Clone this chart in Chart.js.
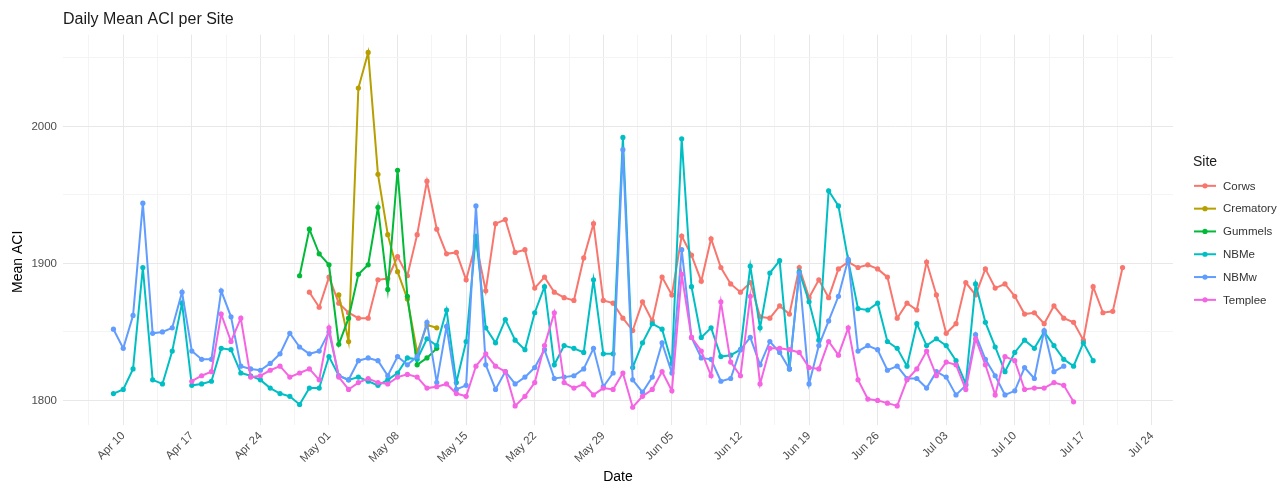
<!DOCTYPE html>
<html>
<head>
<meta charset="utf-8">
<script src="https://cdn.jsdelivr.net/npm/chart.js@4.4.1/dist/chart.umd.min.js"></script>
<style>
html,body{margin:0;padding:0;background:#ffffff;}
canvas{display:block;}
</style>
</head>
<body>
<canvas id="c" width="1288" height="484"></canvas>
<script>
// ---- categories (dates, 2024) ----
const dates = [
'04-09','04-10','04-11','04-12','04-13','04-14','04-15','04-16','04-17','04-18','04-19','04-20','04-21','04-22','04-23','04-24','04-25','04-26','04-27','04-28','04-29','04-30',
'05-01','05-02','05-03','05-04','05-05','05-06','05-07','05-08','05-09','05-10','05-11','05-12','05-13','05-14','05-15','05-16','05-17','05-18','05-19','05-20','05-21','05-22','05-23','05-24','05-25','05-26','05-27','05-28','05-29','05-30','05-31',
'06-01','06-02','06-03','06-04','06-05','06-06','06-07','06-08','06-09','06-10','06-11','06-12','06-13','06-14','06-15','06-16','06-17','06-18','06-19','06-20','06-21','06-22','06-23','06-24','06-25','06-26','06-27','06-28','06-29','06-30',
'07-01','07-02','07-03','07-04','07-05','07-06','07-07','07-08','07-09','07-10','07-11','07-12','07-13','07-14','07-15','07-16','07-17','07-18','07-19','07-20','07-21'
];

// ---- tick labels ----
const xTickDates  = ['04-10','04-17','04-24','05-01','05-08','05-15','05-22','05-29','06-05','06-12','06-19','06-26','07-03','07-10','07-17','07-24'];
const xTickLabels = ['Apr 10','Apr 17','Apr 24','May 01','May 08','May 15','May 22','May 29','Jun 05','Jun 12','Jun 19','Jun 26','Jul 03','Jul 10','Jul 17','Jul 24'];
const yTickValues = [1800, 1900, 2000];

// ---- sites ----
const siteNames  = ['Corws','Crematory','Gummels','NBMe','NBMw','Templee'];
const siteColors = ['#F8766D','#B79F00','#00BA38','#00BFC4','#619CFF','#F564E3'];
const siteStarts = ['04-29','05-02','04-28','04-09','04-09','04-17'];

// ---- series values (daily mean ACI, consecutive days from each site's start) ----
const corws = [
1879,1868,1890,1871,1864,1860,1860,1888,1889,1905,
1891,1921,1960,1925,1907,1908,1888,1915,1880,1929,
1932,1908,1910,1882,1890,1879,1875,1873,1904,1929,
1873,1871,1860,1851,1872,1858,1890,1877,1920,1906,
1887,1918,1897,1885,1879,1886,1861,1860,1869,1863,
1897,1875,1888,1875,1896,1901,1897,1899,1896,1890,
1860,1871,1866,1901,1877,1849,1856,1886,1877,1896,
1882,1885,1876,1863,1864,1856,1869,1860,1857,1844,
1883,1864,1865,1897];
const crematory = [1877,1843,2028,2054,1965,1921,1894,1874,1835,1855,1853];
const gummels = [1891,1925,1907,1899,1841,1860,1892,1899,1941,1881,1968,1876,1826,1831,1838];
const nbme = [
1805,1808,1823,1897,1815,1812,1836,1871,1811,1812,
1814,1838,1837,1820,1818,1815,1809,1805,1803,1797,
1809,1809,1832,1818,1815,1817,1814,1811,1815,1820,
1831,1830,1845,1840,1866,1813,1843,1920,1853,1842,
1859,1844,1837,1864,1883,1826,1840,1838,1835,1888,
1834,1834,1992,1824,1842,1856,1852,1827,1991,1883,
1846,1853,1832,1833,1837,1898,1853,1893,1902,1823,
1894,1872,1844,1953,1942,1902,1867,1866,1871,1843,
1838,1825,1856,1840,1845,1840,1829,1812,1885,1857,
1839,1821,1835,1844,1838,1850,1840,1830,1825,1842,
1829];
const nbmw = [
1852,1838,1862,1944,1849,1850,1853,1879,1836,1830,
1830,1880,1861,1825,1823,1822,1827,1834,1849,1839,
1834,1836,1850,1818,1815,1829,1831,1829,1818,1832,
1826,1832,1857,1813,1854,1808,1811,1942,1826,1808,
1821,1812,1817,1824,1837,1816,1817,1818,1823,1838,
1810,1820,1983,1815,1806,1817,1842,1820,1910,1846,
1831,1830,1814,1816,1837,1846,1826,1843,1835,1823,
1893,1812,1840,1858,1876,1903,1836,1840,1837,1822,
1825,1816,1816,1809,1821,1817,1804,1811,1848,1830,
1818,1804,1807,1824,1816,1851,1821,1825];
const templee = [
1814,1818,1821,1863,1843,1860,1817,1818,1822,1825,
1817,1820,1823,1815,1853,1817,1808,1813,1816,1813,
1812,1817,1819,1817,1809,1810,1812,1805,1803,1825,
1834,1825,1821,1796,1803,1813,1840,1864,1813,1809,
1812,1804,1809,1808,1820,1795,1803,1808,1821,1807,
1892,1846,1836,1818,1872,1828,1818,1876,1812,1838,
1838,1837,1835,1824,1823,1843,1833,1853,1815,1801,
1800,1798,1796,1815,1823,1836,1818,1828,1826,1808,
1845,1826,1804,1832,1829,1808,1809,1809,1813,1811,
1799];
const siteValues = [corws, crematory, gummels, nbme, nbmw, templee];

// ---- helpers ----
const FONT = "'Liberation Sans', Arial, Helvetica, sans-serif";
const dayOf = md => Math.round((Date.UTC(2024, +md.slice(0,2) - 1, +md.slice(3)) - Date.UTC(2024, 3, 10)) / 864e5);

const datasets = siteNames.map((name, s) => {
  const start = dates.indexOf(siteStarts[s]);
  return {
    label: name,
    data: siteValues[s].map((v, i) => ({ x: dayOf(dates[start + i]), y: v })),
    borderColor: siteColors[s],
    backgroundColor: siteColors[s],
    pointBackgroundColor: siteColors[s],
    pointBorderWidth: 0,
    pointRadius: 2.6,
    borderWidth: 2,
    tension: 0,
    order: siteNames.length - s
  };
});

const allX = datasets.flatMap(d => d.data.map(p => p.x));
const allY = datasets.flatMap(d => d.data.map(p => p.y));
const xMinD = Math.min(...allX), xMaxD = Math.max(...allX);
const yMinD = Math.min(...allY), yMaxD = Math.max(...allY);
const xPad = (xMaxD - xMinD) * 0.05, yPad = (yMaxD - yMinD) * 0.05;
const xMin = xMinD - xPad, xMax = xMaxD + xPad;
const yMin = yMinD - yPad, yMax = yMaxD + yPad;

const xMajor = xTickDates.map(dayOf);
const xStep = xMajor[1] - xMajor[0];
const xAll = [];
xMajor.forEach(m => { [m - xStep / 2, m].forEach(v => { if (v >= xMin && v <= xMax) xAll.push(v); }); });
const lastMinor = xMajor[xMajor.length - 1] + xStep / 2;
if (lastMinor <= xMax) xAll.push(lastMinor);
const yStep = yTickValues[1] - yTickValues[0];
const yAll = [];
yTickValues.forEach(m => { [m - yStep / 2, m, m + yStep / 2].forEach(v => { if (v >= yMin && v <= yMax && !yAll.includes(v)) yAll.push(v); }); });
yAll.sort((a, b) => a - b);

const isXMajor = v => xMajor.includes(v);
const isYMajor = v => yTickValues.includes(v);

// ---- legend and y-axis title drawn in ggplot style ----
const siteLegend = {
  id: 'siteLegend',
  afterDraw(chart) {
    const ctx = chart.ctx;
    const area = chart.chartArea;
    const x0 = area.right + 20;
    const yMid = (area.top + area.bottom) / 2;
    const row = 22.8;
    ctx.save();
    ctx.textBaseline = 'middle';
    ctx.textAlign = 'left';
    ctx.fillStyle = '#1a1a1a';
    ctx.font = '14px ' + FONT;
    ctx.fillText('Site', x0, yMid - 68);
    chart.data.datasets.forEach((ds, i) => {
      const y = yMid - 44 + i * row;
      ctx.strokeStyle = ds.borderColor;
      ctx.lineWidth = 2;
      ctx.beginPath();
      ctx.moveTo(x0 + 1, y);
      ctx.lineTo(x0 + 23, y);
      ctx.stroke();
      ctx.fillStyle = ds.borderColor;
      ctx.beginPath();
      ctx.arc(x0 + 12, y, 2.6, 0, Math.PI * 2);
      ctx.fill();
      ctx.fillStyle = '#333333';
      ctx.font = '11.5px ' + FONT;
      ctx.fillText(ds.label, x0 + 30, y + 0.5);
    });
    // y-axis title
    ctx.translate(18, yMid + 32);
    ctx.rotate(-Math.PI / 2);
    ctx.textAlign = 'center';
    ctx.fillStyle = '#000000';
    ctx.font = '14px ' + FONT;
    ctx.fillText('Mean ACI', 0, 0);
    ctx.restore();
  }
};

new Chart(document.getElementById('c'), {
  type: 'line',
  data: { datasets },
  plugins: [siteLegend],
  options: {
    responsive: false,
    animation: false,
    devicePixelRatio: 1,
    layout: { padding: { left: 0, right: 115, top: 0, bottom: 0 } },
    plugins: {
      legend: { display: false },
      tooltip: { enabled: false },
      title: {
        display: true,
        text: 'Daily Mean ACI per Site',
        align: 'start',
        fullSize: false,
        color: '#1a1a1a',
        font: { family: FONT, size: 16, weight: 'normal' },
        padding: { top: 10, bottom: 5.5 }
      }
    },
    scales: {
      x: {
        type: 'linear',
        min: xMin,
        max: xMax,
        afterBuildTicks: axis => { axis.ticks = xAll.map(v => ({ value: v })); },
        afterFit: axis => { axis.height = 59; },
        border: { display: false },
        grid: {
          drawTicks: false,
          color: c => (c.tick && isXMajor(c.tick.value)) ? '#E8E8E8' : '#F4F4F4',
          lineWidth: 1
        },
        ticks: {
          autoSkip: false,
          minRotation: 45,
          maxRotation: 45,
          padding: 4,
          color: '#4D4D4D',
          font: { family: FONT, size: 11.5 },
          callback: v => { const k = xMajor.indexOf(v); return k >= 0 ? xTickLabels[k] : ''; }
        },
        title: {
          display: true,
          text: 'Date',
          color: '#000000',
          font: { family: FONT, size: 14 },
          padding: { top: 0, bottom: -2 }
        }
      },
      y: {
        type: 'linear',
        min: yMin,
        max: yMax,
        afterBuildTicks: axis => { axis.ticks = yAll.map(v => ({ value: v })); },
        afterFit: axis => { axis.width = 63; },
        border: { display: false },
        grid: {
          drawTicks: false,
          color: c => (c.tick && isYMajor(c.tick.value)) ? '#E8E8E8' : '#F4F4F4',
          lineWidth: 1
        },
        ticks: {
          autoSkip: false,
          padding: 6,
          color: '#4D4D4D',
          font: { family: FONT, size: 11.5 },
          callback: v => isYMajor(v) ? String(v) : ''
        },
        title: { display: false }
      }
    }
  }
});
</script>
</body>
</html>
